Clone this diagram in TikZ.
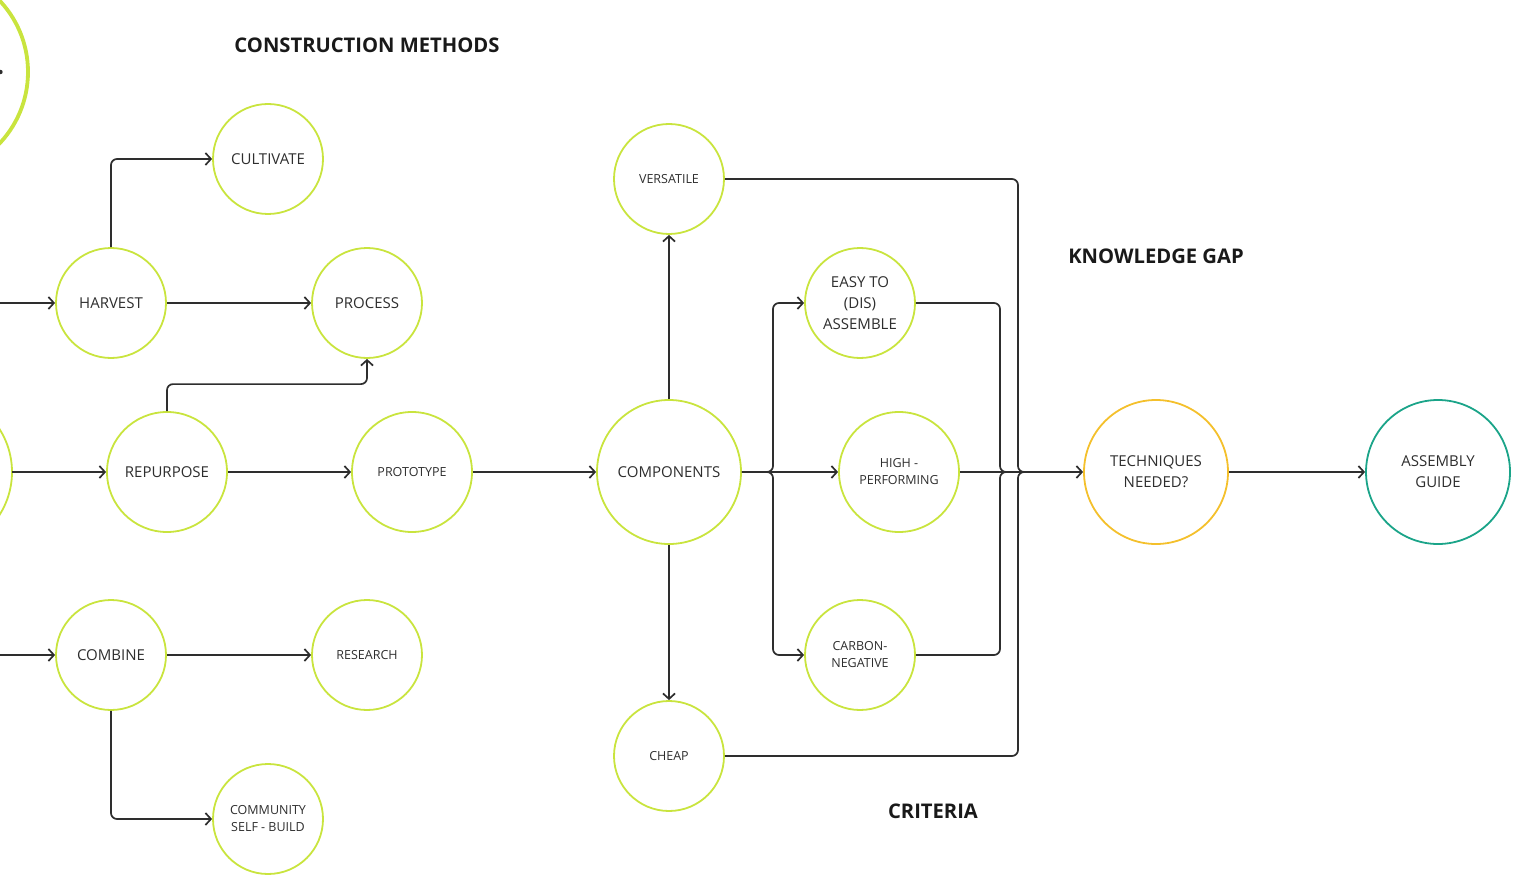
\documentclass[tikz,border=0pt]{standalone}
\usepackage{fontspec}
\setmainfont{Open Sans}
\usetikzlibrary{arrows.meta}
\definecolor{lime}{HTML}{C9E43E}
\definecolor{amber}{HTML}{F4C02C}
\definecolor{teal}{HTML}{1BA489}
\definecolor{ink}{HTML}{2E2E2E}
\tikzset{
  bubble/.style={circle, draw=lime, line width=1.8pt, inner sep=0pt, align=center,
    text=ink, font=\fontsize{15}{21}\selectfont},
  sm/.style={minimum size=110pt},
  md/.style={minimum size=120pt},
  lg/.style={minimum size=144pt},
  tiny/.style={font=\fontsize{12.5}{17}\selectfont},
  title/.style={font=\bfseries\fontsize{20.2}{24}\selectfont, text=black!90},
  flow/.style={draw=ink, line width=1.7pt, -{Straight Barb[length=5.5pt,width=12pt,line width=1.7pt]}},
  link/.style={draw=ink, line width=1.7pt},
}
\begin{document}
\begin{tikzpicture}[x=1pt, y=-1pt]
\useasboundingbox (0,0) rectangle (1525,877);

% cropped circles at the left edge
\begin{scope}
\clip (0,0) rectangle (1525,877);
\draw[lime, line width=3.8pt] (-76,72) circle (104);
\draw[lime, line width=1.8pt] (-68,472) circle (80);
\fill[ink] (0.5,72) circle (2.2);
\end{scope}
\coordinate (inA) at (0,303);
\coordinate (inC) at (0,655);
\coordinate (midedge) at (12,472);

% titles
\node[title] (tcm) at (367,45) {CONSTRUCTION METHODS};
\node[title] (tkg) at (1156,256) {KNOWLEDGE GAP};
\node[title] (tcr) at (933,811) {CRITERIA};

% construction methods
\node[bubble, sm] (cultivate) at (268,159) {CULTIVATE};
\node[bubble, sm] (harvest) at (111,303) {HARVEST};
\node[bubble, sm] (process) at (367,303) {PROCESS};
\node[bubble, md] (repurpose) at (167,472) {REPURPOSE};
\node[bubble, md, tiny] (prototype) at (412,472) {PROTOTYPE};
\node[bubble, sm] (combine) at (111,655) {COMBINE};
\node[bubble, sm, tiny] (research) at (367,655) {RESEARCH};
\node[bubble, sm, tiny] (community) at (268,819) {COMMUNITY\\SELF - BUILD};

% components and criteria
\node[bubble, lg] (components) at (669,472) {COMPONENTS};
\node[bubble, sm, tiny] (versatile) at (669,179) {VERSATILE};
\node[bubble, sm, tiny] (cheap) at (669,756) {CHEAP};
\node[bubble, sm] (easy) at (860,303) {EASY TO\\(DIS)\\ASSEMBLE};
\node[bubble, md, tiny] (high) at (899,472) {HIGH -\\PERFORMING};
\node[bubble, sm, tiny] (carbon) at (860,655) {CARBON-\\NEGATIVE};

% outcome
\node[bubble, lg, draw=amber] (techniques) at (1156,472) {TECHNIQUES\\NEEDED?};
\node[bubble, lg, draw=teal] (guide) at (1438,472) {ASSEMBLY\\GUIDE};

% junction points
\coordinate (split) at (773,472);
\coordinate (joinA) at (1000,472);
\coordinate (joinB) at (1018,472);

% connectors, left part
\draw[flow] (inA) -- (harvest.west);
\draw[flow] (midedge) -- (repurpose.west);
\draw[flow] (inC) -- (combine.west);
\draw[flow, rounded corners=6pt] (harvest.north) |- (cultivate.west);
\draw[flow] (harvest.east) -- (process.west);
\draw[flow, rounded corners=6pt] (repurpose.north) -- ++(0,-27) -| (process.south);
\draw[flow] (repurpose.east) -- (prototype.west);
\draw[flow] (prototype.east) -- (components.west);
\draw[flow] (combine.east) -- (research.west);
\draw[flow, rounded corners=6pt] (combine.south) |- (community.west);

% connectors, components to criteria
\draw[flow] (components.north) -- (versatile.south);
\draw[flow] (components.south) -- (cheap.north);
\draw[flow] (components.east) -- (high.west);
\draw[flow, rounded corners=6pt] (components.east) -- (split) |- (easy.west);
\draw[flow, rounded corners=6pt] (components.east) -- (split) |- (carbon.west);

% criteria into the knowledge gap
\draw[link, rounded corners=6pt] (easy.east) -| (joinA) -- ++(10,0);
\draw[link, rounded corners=6pt] (carbon.east) -| (joinA) -- ++(10,0);
\draw[link, rounded corners=6pt] (versatile.east) -| (joinB) -- ++(10,0);
\draw[link, rounded corners=6pt] (cheap.east) -| (joinB) -- ++(10,0);
\draw[flow] (high.east) -- (techniques.west);
\draw[flow] (techniques.east) -- (guide.west);
\end{tikzpicture}
\end{document}
